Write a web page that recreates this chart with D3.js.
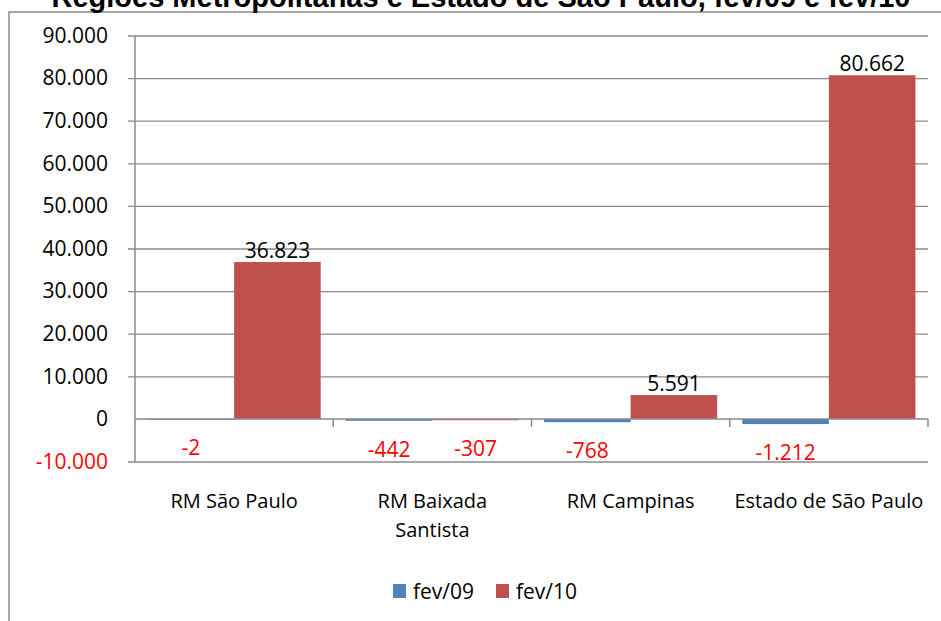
<!DOCTYPE html>
<html>
<head>
<meta charset="utf-8">
<script src="https://cdn.jsdelivr.net/npm/d3@7"></script>
<style>
  body { margin: 0; background: #fff; }
  svg { display: block; }
</style>
</head>
<body>
<div id="graphique"></div>
<script>
// donnees
const categories = ["RM São Paulo", "RM Baixada Santista", "RM Campinas", "Estado de São Paulo"];
const categoryLines = [["RM São Paulo"], ["RM Baixada", "Santista"], ["RM Campinas"], ["Estado de São Paulo"]];
const series = ["fev/09", "fev/10"];
const fev09 = [-2, -442, -768, -1212];
const fev10 = [36823, -307, 5591, 80662];
const yTicks = [-10000, 0, 10000, 20000, 30000, 40000, 50000, 60000, 70000, 80000, 90000];
const titre = "Regiões Metropolitanas e Estado de São Paulo, fev/09 e fev/10";

const colors = { "fev/09": "#4F81BD", "fev/10": "#C0504D" };
const grid = "#8a8a8a";
const font = "'Open Sans', 'Noto Sans', sans-serif";

const ptBR = d3.formatLocale({ decimal: ",", thousands: ".", grouping: [3], currency: ["R$", ""], minus: "-" });
const fmt = ptBR.format(",d");

function AffichageGraph() {
    const width = 941, height = 621;
    const margin = { top: 35.5, right: 13, bottom: 159.5, left: 135 };
    const innerWidth = width - margin.left - margin.right;
    const innerHeight = height - margin.top - margin.bottom;

    const svgRoot = d3.select("#graphique").append("svg")
        .attr("width", width)
        .attr("height", height);

    // cadre
    svgRoot.append("rect")
        .attr("x", 9).attr("y", 12)
        .attr("width", 960).attr("height", 640)
        .attr("fill", "none")
        .attr("stroke", grid)
        .attr("stroke-width", 1.5);

    // titre (coupe en haut)
    svgRoot.append("text")
        .attr("x", 481)
        .attr("y", 7)
        .attr("text-anchor", "middle")
        .style("font-family", "'Liberation Sans', Arial, sans-serif")
        .style("font-weight", "bold")
        .style("font-size", "29px")
        .text(titre);

    const svg = svgRoot.append("g")
        .attr("transform", `translate(${margin.left},${margin.top})`);

    const data = categories.map((c, i) => ({
        cat: c,
        values: [{ serie: "fev/09", value: fev09[i] }, { serie: "fev/10", value: fev10[i] }]
    }));

    const x0 = d3.scaleBand()
        .domain(categories)
        .range([0, innerWidth])
        .padding(0);

    const x1 = d3.scaleBand()
        .domain(series)
        .range([0, x0.bandwidth()])
        .paddingInner(0)
        .paddingOuter(0.145);

    const yScale = d3.scaleLinear()
        .domain([-10000, 90000])
        .range([innerHeight, 0]);

    // grille + axe vertical
    const yAxis = svg.append("g")
        .call(d3.axisLeft(yScale).tickValues(yTicks).tickSize(-innerWidth).tickPadding(27).tickFormat(fmt));
    yAxis.select(".domain").remove();
    yAxis.selectAll(".tick line")
        .attr("x1", -7)
        .attr("stroke", grid)
        .attr("stroke-width", 1.3);
    yAxis.selectAll(".tick").filter(d => d === 0).select("line").remove();
    yAxis.selectAll("text")
        .style("font-family", font)
        .style("font-size", "21px")
        .style("fill", d => d < 0 ? "#FF0000" : "#000");

    svg.append("line")
        .attr("x1", 0).attr("x2", 0)
        .attr("y1", 0).attr("y2", innerHeight)
        .attr("stroke", grid)
        .attr("stroke-width", 1.5);

    // barres
    const groups = svg.selectAll(".groupe")
        .data(data)
        .enter()
        .append("g")
        .attr("class", "groupe")
        .attr("transform", d => `translate(${x0(d.cat)},0)`);

    groups.selectAll("rect")
        .data(d => d.values)
        .enter()
        .append("rect")
        .attr("x", d => x1(d.serie))
        .attr("y", d => yScale(Math.max(0, d.value)))
        .attr("width", x1.bandwidth())
        .attr("height", d => Math.max(0.8, Math.abs(yScale(d.value) - yScale(0))))
        .style("fill", d => colors[d.serie]);

    // etiquettes de valeurs
    groups.selectAll(".bar-text")
        .data(d => d.values)
        .enter()
        .append("text")
        .attr("class", "bar-text")
        .attr("x", d => x1(d.serie) + x1.bandwidth() / 2)
        .attr("y", d => d.value < 0 ? yScale(d.value) + 36 : yScale(d.value) - 4)
        .attr("text-anchor", "middle")
        .style("font-family", font)
        .style("font-size", "21px")
        .style("fill", d => d.value < 0 ? "#FF0000" : "#000")
        .text(d => fmt(d.value));

    // axe des categories sur le zero
    const xAxis = svg.append("g")
        .attr("transform", `translate(0,${yScale(0)})`);
    xAxis.append("line")
        .attr("x1", 0).attr("x2", innerWidth)
        .attr("stroke", grid)
        .attr("stroke-width", 1.5);
    xAxis.selectAll(".sep")
        .data(categories.slice(1).map(c => x0(c)).concat([innerWidth]))
        .enter()
        .append("line")
        .attr("class", "sep")
        .attr("x1", d => d).attr("x2", d => d)
        .attr("y1", 0).attr("y2", 8)
        .attr("stroke", grid)
        .attr("stroke-width", 1.5);

    // noms des categories
    svg.selectAll(".cat-text")
        .data(categories)
        .enter()
        .append("text")
        .attr("class", "cat-text")
        .attr("x", d => x0(d) + x0.bandwidth() / 2)
        .attr("y", innerHeight + 46.5)
        .attr("text-anchor", "middle")
        .style("font-family", font)
        .style("font-size", "20px")
        .style("fill", "#000")
        .each(function(d, i) {
            d3.select(this).selectAll("tspan")
                .data(categoryLines[i])
                .enter()
                .append("tspan")
                .attr("x", x0(d) + x0.bandwidth() / 2)
                .attr("dy", (l, j) => j === 0 ? 0 : 29)
                .text(l => l);
        });

    // legende
    const legend = svgRoot.append("g")
        .attr("transform", "translate(393,584)");
    const items = legend.selectAll(".leg")
        .data(series)
        .enter()
        .append("g")
        .attr("class", "leg")
        .attr("transform", (d, i) => `translate(${i * 103},0)`);
    items.append("rect")
        .attr("width", 13).attr("height", 14)
        .style("fill", d => colors[d]);
    items.append("text")
        .attr("x", 20)
        .attr("y", 15)
        .style("font-family", font)
        .style("font-size", "21px")
        .style("fill", "#000")
        .text(d => d);
}

AffichageGraph();
</script>
</body>
</html>
